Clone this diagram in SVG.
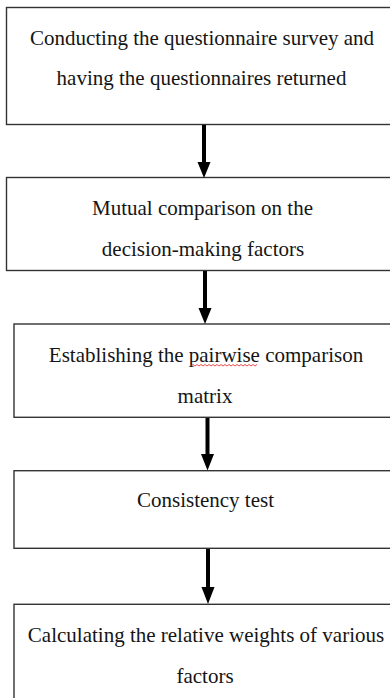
<svg xmlns="http://www.w3.org/2000/svg" width="390" height="698" viewBox="0 0 390 698">
<defs>
<style>
.box{fill:#fff;stroke:#333;stroke-width:1.4}
.t{font-family:"Liberation Serif","Times New Roman",serif;font-size:21px;fill:#151515;text-anchor:middle}
.shaft{stroke:#000;stroke-width:4}
.head{fill:#000}
</style>
</defs>
<rect width="390" height="698" fill="#fff"/>
<g id="node1">
<rect class="box" x="6.5" y="7.5" width="400" height="117"/>
<text class="t" x="202" y="45">Conducting the questionnaire survey and</text>
<text class="t" x="201.5" y="85">having the questionnaires returned</text>
</g>
<g id="node2">
<rect class="box" x="6.5" y="177.5" width="400" height="93"/>
<text class="t" x="202.5" y="215">Mutual comparison on the</text>
<text class="t" x="203" y="256">decision-making factors</text>
</g>
<g id="node3">
<rect class="box" x="14" y="324" width="400" height="93.3"/>
<text class="t" x="206" y="362">Establishing the pairwise comparison</text>
<text class="t" x="205" y="403">matrix</text>
<path d="M191 366 l2 -1.5 l2 1.5 l2 -1.5 l2 1.5 l2 -1.5 l2 1.5 l2 -1.5 l2 1.5 l2 -1.5 l2 1.5 l2 -1.5 l2 1.5 l2 -1.5 l2 1.5 l2 -1.5 l2 1.5 l2 -1.5 l2 1.5 l2 -1.5 l2 1.5 l2 -1.5 l2 1.5 l2 -1.5 l2 1.5 l2 -1.5 l2 1.5 l2 -1.5 l2 1.5 l2 -1.5 l2 1.5 l2 -1.5 l2 1.5 l2 -1.5" fill="none" stroke="#e02020" stroke-width="0.8"/>
</g>
<g id="node4">
<rect class="box" x="14" y="470.7" width="400" height="77.6"/>
<text class="t" x="205.5" y="507">Consistency test</text>
</g>
<g id="node5">
<rect class="box" x="14" y="604.3" width="400" height="120"/>
<text class="t" x="206" y="642">Calculating the relative weights of various</text>
<text class="t" x="205" y="683">factors</text>
</g>
<g id="connectors">
<line class="shaft" x1="204" y1="125" x2="204" y2="163"/>
<polygon class="head" points="197.5,162 210.5,162 204,178"/>
<line class="shaft" x1="205" y1="271" x2="205" y2="309"/>
<polygon class="head" points="198.5,308 211.5,308 205,324"/>
<line class="shaft" x1="207.5" y1="418" x2="207.5" y2="455"/>
<polygon class="head" points="201,454 214,454 207.5,470.5"/>
<line class="shaft" x1="208" y1="549" x2="208" y2="588"/>
<polygon class="head" points="201.5,587 214.5,587 208,604"/>
</g>
</svg>
